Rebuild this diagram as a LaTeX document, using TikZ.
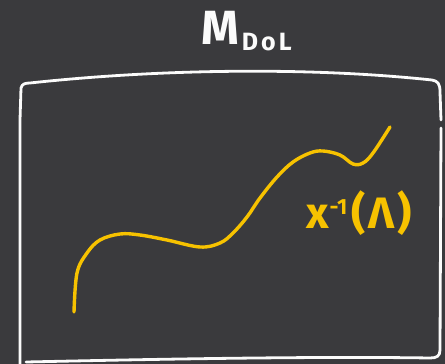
\documentclass[tikz,border=0pt]{standalone}
\usepackage{fontspec}
\setsansfont{Fira Sans}
\definecolor{board}{HTML}{3A3A3D}
\definecolor{chalkyellow}{HTML}{F7C200}
\definecolor{chalkwhite}{HTML}{FBFBFB}
\begin{document}
\begin{tikzpicture}[x=1pt,y=-1pt,
  chalkline/.style={draw=chalkwhite,line width=2.8pt,line cap=round,line join=round},
  curveline/.style={draw=chalkyellow,line width=3.4pt,line cap=round,line join=round},
  titletext/.style={text=chalkwhite,font=\sffamily,inner sep=0pt},
  labeltext/.style={text=chalkyellow,font=\sffamily,inner sep=0pt}]
\fill[board] (0,0) rectangle (445,364);
\useasboundingbox (0,0) rectangle (445,364);
% board frame
\draw[chalkline] (20,366) -- (20,120) -- (21,88) .. controls (22,84) and (25,83) .. (30,83)
  .. controls (150,70) and (300,66) .. (432,80) .. controls (438,81) and (440,84) .. (440,92)
  -- (441,120);
\draw[chalkline] (441,128) -- (440,350) .. controls (440,356) and (437,358) .. (430,358)
  .. controls (300,356) and (120,360) .. (26,362);
% curve
\draw[curveline] plot[smooth,tension=0.6] coordinates {(74,312) (77,273) (87,253) (100,240) (120,234) (140,235) (167,240) (200,247) (220,243) (233,233) (247,217) (260,198) (277,177) (293,162) (310,153) (323,151) (340,155) (353,164) (363,163) (373,153) (390,127)};
% texts
\node[titletext,anchor=base west] (title) at (201,44) {\fontsize{48}{48}\selectfont\bfseries M\kern3pt\raisebox{-6pt}{\fontsize{25}{25}\selectfont\bfseries D\kern3pt o\kern3pt L}};
\node[labeltext,anchor=base west] (lbl) at (306,228) {\fontsize{44}{44}\selectfont\bfseries x\kern1pt\raisebox{14pt}{\fontsize{22}{22}\selectfont\bfseries -1}\kern4pt(\kern3ptΛ\kern3pt)};
\end{tikzpicture}
\end{document}
